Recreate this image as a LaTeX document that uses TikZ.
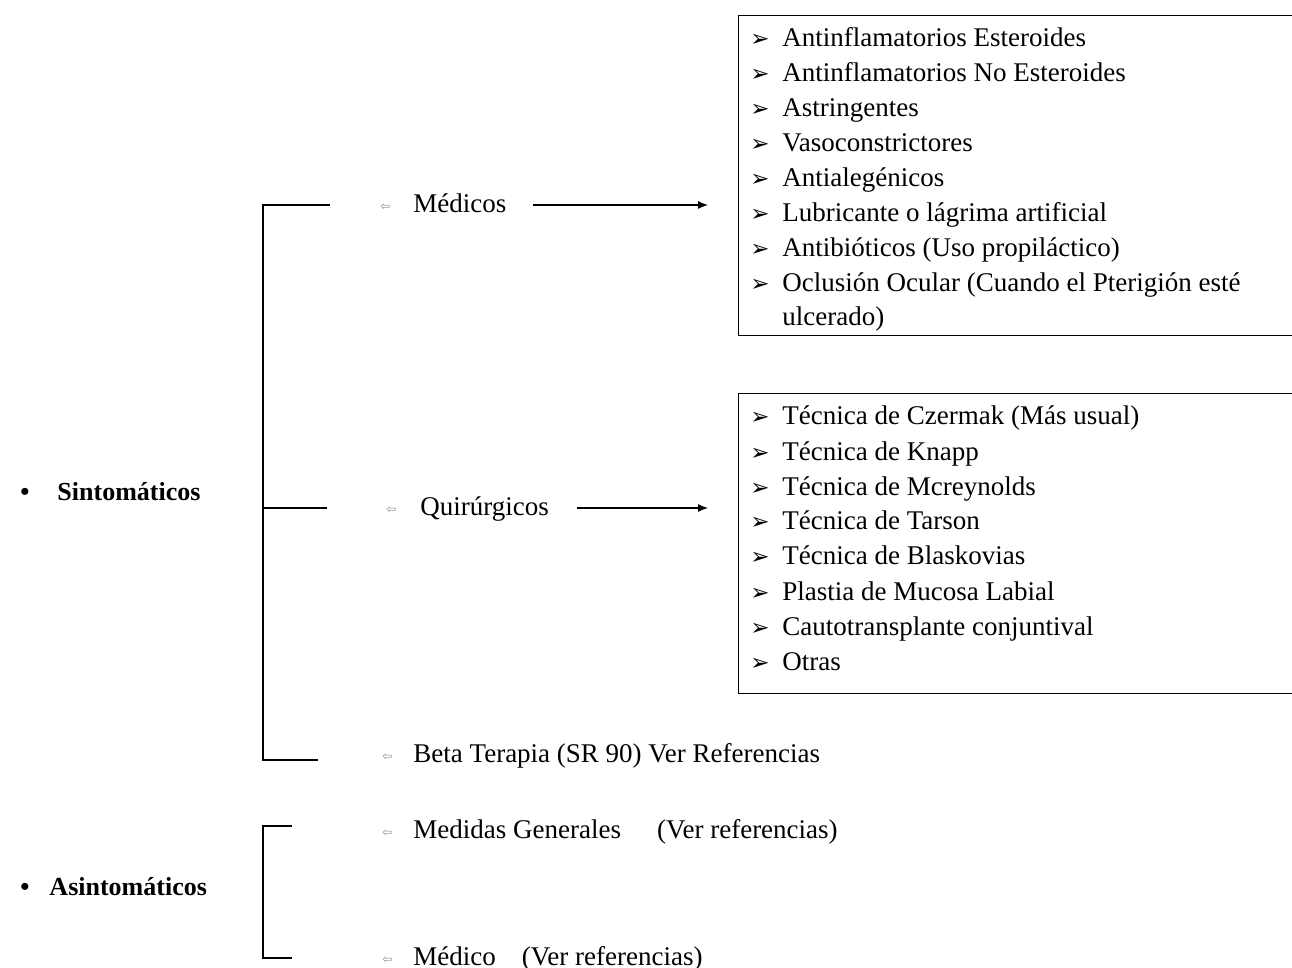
\documentclass[tikz,border=0pt]{standalone}
\usepackage{fontspec}
\usetikzlibrary{arrows.meta}
\setmainfont{Liberation Serif}
\newfontfamily\dejavu{DejaVu Sans}
\newcommand{\pointer}{{\dejavu\fontsize{11.5}{12}\selectfont ➢}}
\newcommand{\smallarr}{{\dejavu\fontsize{6}{6}\selectfont\color{black!45}⇦}}
\begin{document}
\begin{tikzpicture}[x=0.5pt,y=-0.5pt,
  txt/.style={anchor=base west, inner sep=0pt, font=\fontsize{13.5}{17.2}\selectfont},
  hdr/.style={txt, font=\fontsize{13}{17}\selectfont\bfseries},
  glyph/.style={anchor=base west, inner sep=0pt},
  conn/.style={line width=0.6pt},
  arr/.style={line width=0.6pt, -{Latex[length=5pt,width=4pt]}},
  listbox/.style={draw, line width=0.6pt, anchor=north west, inner sep=0pt}
]
\useasboundingbox (0,0) rectangle (1292,968);

% ---------- Sintomaticos ----------
\node[hdr] (sint) at (20,501) {\textbullet\hspace{14pt}Sintomáticos};

\coordinate (b1t) at (263,205);
\coordinate (b1m) at (263,508);
\coordinate (b1b) at (263,760);
\coordinate (t1) at (330,205);
\coordinate (t2) at (327,508);
\coordinate (t3) at (318,760);
\draw[conn] (t1) -- (b1t) -- (b1b) -- (t3);
\draw[conn] (b1m) -- (t2);

\node[glyph] (m1) at (380,211) {\smallarr};
\node[txt] (med) at (413,213) {Médicos};
\node[glyph] (m2) at (386,514) {\smallarr};
\node[txt] (quir) at (420,516) {Quirúrgicos};
\node[glyph] (m3) at (382,760) {\smallarr};
\node[txt] (beta) at (413,762) {Beta Terapia (SR 90) Ver Referencias};

% boxes
\node[listbox, minimum width=600*0.5pt, minimum height=320*0.5pt] (box1) at (738,15) {};
\node[listbox, minimum width=600*0.5pt, minimum height=300*0.5pt] (box2) at (738,393) {};

\coordinate (a1) at (708,205);
\coordinate (a2) at (708,508);
\draw[arr] ([xshift=13pt]med.east |- a1) -- (a1);
\draw[arr] ([xshift=14pt]quir.east |- a2) -- (a2);

% box 1 items
\foreach \t [count=\i] in {Antinflamatorios Esteroides,Antinflamatorios No Esteroides,Astringentes,Vasoconstrictores,Antialegénicos,Lubricante o lágrima artificial,Antibióticos (Uso propiláctico)}{
  \node[glyph] (p1\i) at (750,{40+35*(\i-1)+7}) {\pointer};
  \node[txt] (i1\i) at (782,{40+35*(\i-1)+7}) {\t};
}
\node[glyph] (p18) at (750,{40+35*7+7}) {\pointer};
\node[txt, align=left] (i18) at (782,{40+35*7+7+34}) {Oclusión Ocular (Cuando el Pterigión esté\\ulcerado)};

% box 2 items
\foreach \t [count=\i] in {Técnica de Czermak (Más usual),Técnica de Knapp,Técnica de Mcreynolds,Técnica de Tarson,Técnica de Blaskovias,Plastia de Mucosa Labial,Cautotransplante conjuntival,Otras}{
  \node[glyph] (p2\i) at (750,{418+35*(\i-1)+7}) {\pointer};
  \node[txt] (i2\i) at (782,{418+35*(\i-1)+7}) {\t};
}

% ---------- Asintomaticos ----------
\node[hdr] (asin) at (20,895) {\textbullet\hspace{10pt}Asintomáticos};
\coordinate (b2t) at (263,826);
\coordinate (b2b) at (263,958);
\coordinate (u1) at (292,826);
\coordinate (u2) at (292,958);
\draw[conn] (u1) -- (b2t) -- (b2b) -- (u2);

\node[glyph] (m4) at (382,836) {\smallarr};
\node[txt] (medg) at (413,838) {Medidas Generales\hspace{18pt}(Ver referencias)};
\node[glyph] (m5) at (382,963) {\smallarr};
\node[txt] (medi) at (413,965) {Médico\hspace{13pt}(Ver referencias)};
\end{tikzpicture}
\end{document}
